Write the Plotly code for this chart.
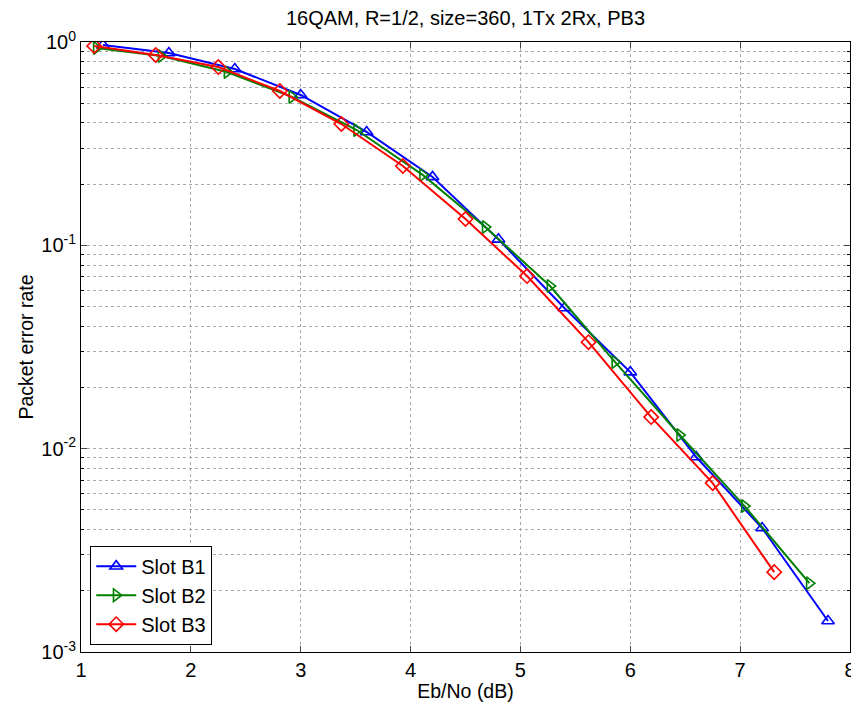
import plotly.graph_objects as go

# ---- data ----
b1_x = [1.2, 1.8, 2.4, 3.0, 3.6, 4.2, 4.8, 5.4, 6.0, 6.6, 7.2, 7.8]
b1_y = [0.967, 0.883, 0.737, 0.549, 0.361, 0.217, 0.107, 0.0492, 0.0238, 0.0091, 0.00407, 0.00142]

b2_x = [1.14, 1.73, 2.33, 2.92, 3.51, 4.11, 4.68, 5.27, 5.86, 6.45, 7.04, 7.63]
b2_y = [0.934, 0.853, 0.712, 0.537, 0.369, 0.222, 0.123, 0.0631, 0.0267, 0.01167, 0.00522, 0.00218]

b3_x = [1.12, 1.68, 2.25, 2.81, 3.37, 3.93, 4.50, 5.06, 5.62, 6.19, 6.75, 7.31]
b3_y = [0.956, 0.863, 0.753, 0.574, 0.395, 0.2455, 0.1347, 0.0706, 0.0334, 0.0143, 0.00677, 0.00247]

series_names = ["Slot B1", "Slot B2", "Slot B3"]
x_ticks = [1, 2, 3, 4, 5, 6, 7, 8]
y_ticks = [1e-3, 1e-2, 1e-1, 1]
y_ticktext = ["10<sup>-3</sup>", "10<sup>-2</sup>", "10<sup>-1</sup>", "10<sup>0</sup>"]
minor_mult = [2, 3, 4, 5, 6, 7, 8, 9]
decades = [1e-3, 1e-2, 1e-1]

title_text = "16QAM, R=1/2, size=360, 1Tx 2Rx, PB3"
x_title = "Eb/No (dB)"
y_title = "Packet error rate"

FONT = "Liberation Sans, Arial, sans-serif"
minor_vals = [d * m for d in decades for m in minor_mult]

# page body has an 8px margin: figure is sized so the plot lands where the reference has it
W, H = 851, 698

fig = go.Figure()
styles = [
    ("#0000FF", "triangle-up-open"),
    ("#008000", "triangle-right-open"),
    ("#FF0000", "diamond-open"),
]
for (xs, ys), name, (col, sym) in zip([(b1_x, b1_y), (b2_x, b2_y), (b3_x, b3_y)], series_names, styles):
    fig.add_trace(go.Scatter(
        x=xs, y=ys, name=name, mode="lines+markers",
        line=dict(color=col, width=2),
        marker=dict(symbol=sym, size=11, color=col, line=dict(color=col, width=1.6)),
    ))

grid_col = "#a8a8a8"
fig.update_layout(
    width=W, height=H,
    margin=dict(l=73, r=3, t=34, b=54),
    paper_bgcolor="white", plot_bgcolor="white",
    font=dict(family=FONT, size=20, color="black"),
    title=dict(text=title_text, x=0.5, xref="paper", xanchor="center",
               y=1 - 10 / H, yref="container", yanchor="middle",
               font=dict(family=FONT, size=20, color="black")),
    showlegend=True,
    legend=dict(x=0.012, y=0.012, xanchor="left", yanchor="bottom",
                bordercolor="black", borderwidth=1, bgcolor="white",
                font=dict(family=FONT, size=20), tracegroupgap=0,
                itemwidth=40),
    xaxis=dict(
        range=[1, 8], tickvals=x_ticks, ticks="inside", ticklen=6,
        showline=True, linecolor="black", linewidth=1, mirror="ticks",
        showgrid=True, gridcolor=grid_col, griddash="dot", gridwidth=1,
        zeroline=False, tickfont=dict(size=20), ticklabeloverflow="allow",
        title=dict(text=x_title, standoff=4, font=dict(size=19.5)),
    ),
    yaxis=dict(
        type="log", range=[-3, 0], tickvals=y_ticks, ticktext=y_ticktext,
        ticks="inside", ticklen=6,
        showline=True, linecolor="black", linewidth=1, mirror="ticks",
        showgrid=True, gridcolor=grid_col, griddash="dot", gridwidth=1,
        zeroline=False, tickfont=dict(size=20), ticklabeloverflow="allow",
        minor=dict(tickvals=minor_vals, ticks="inside", ticklen=3, tickcolor="black",
                   showgrid=True, gridcolor=grid_col, griddash="dot", gridwidth=1),
        title=dict(text=y_title, standoff=2, font=dict(size=19.5)),
    ),
)

fig.write_html("out.html")
